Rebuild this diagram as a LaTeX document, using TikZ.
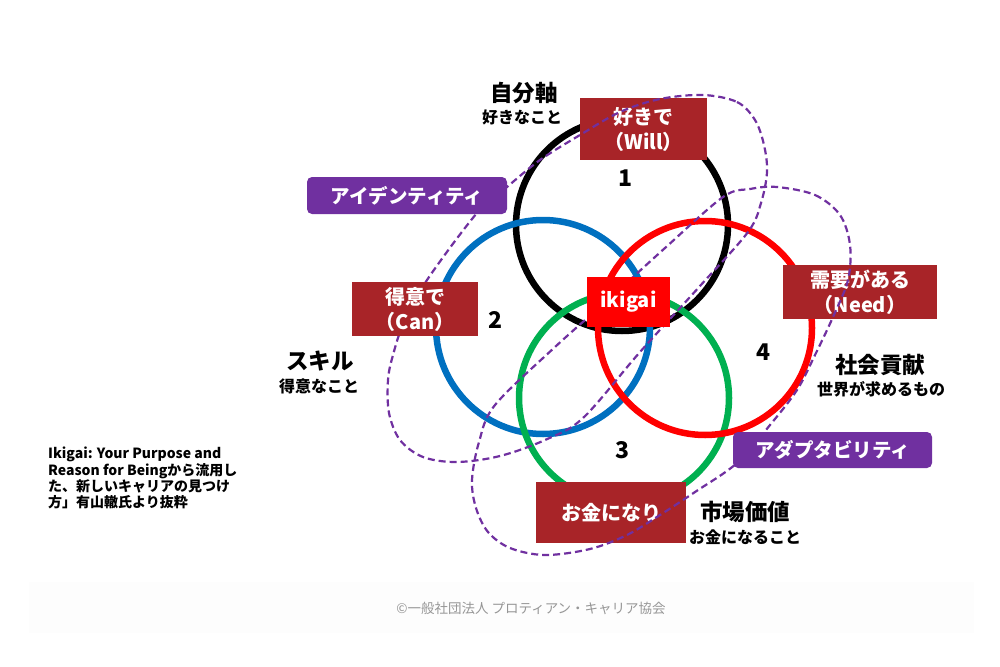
\documentclass[tikz,border=0pt]{standalone}
\usepackage{fontspec}
\setmainfont{Noto Sans CJK JP}
\definecolor{boxred}{RGB}{168,36,40}
\definecolor{ipurple}{RGB}{112,48,160}
\definecolor{cblue}{RGB}{0,112,192}
\definecolor{cgreen}{RGB}{0,176,80}
\definecolor{footgray}{RGB}{150,150,150}
\definecolor{bandgray}{RGB}{253,253,253}
\begin{document}
\begin{tikzpicture}[x=1pt,y=-1pt,
  ringline/.style={line width=6.5pt},
  lbox/.style={fill=boxred, text=white, inner sep=0pt, align=center,
    font=\fontsize{20}{25}\selectfont\bfseries},
  pbox/.style={fill=ipurple, text=white, inner sep=0pt, rounded corners=5pt,
    font=\fontsize{19.5}{22}\selectfont\bfseries},
  dashloop/.style={draw=ipurple, line width=2.2pt, dash pattern=on 7pt off 4pt},
  numlabel/.style={inner sep=0pt, font=\fontsize{23}{26}\selectfont\bfseries},
  headlabel/.style={inner sep=0pt, font=\fontsize{22.5}{26}\selectfont\bfseries},
  sublabel/.style={inner sep=0pt, font=\fontsize{16}{18}\selectfont\bfseries},
]
\useasboundingbox (0,0) rectangle (1000,666);
\fill[white] (0,0) rectangle (1000,666);
\fill[bandgray] (29,582) rectangle (974,633);

% circles
\draw[ringline, black] (622,225) circle[radius=106];
\draw[ringline, cblue] (543,327) circle[radius=107];
\draw[ringline, cgreen] (624,398) circle[radius=105];
\draw[ringline, red] (705,328) circle[radius=107];

% label boxes under the dashed loops
\node[lbox, minimum width=127pt, minimum height=62pt] (will) at (643.5,129) {好きで\\（Will）};
\node[lbox, minimum width=154pt, minimum height=54pt] (need) at (860,292) {需要がある\\（Need）};
\node[lbox, minimum width=150pt, minimum height=61pt] (money) at (611,512.5) {お金になり};

% dashed loops
\draw[dashloop] plot[smooth cycle, tension=0.55] coordinates {
  (703,95) (737,102) (755,120) (764,145) (767,172) (761,203) (748,232)
  (700,286) (640,352) (583,418) (545,440) (500,456) (457,462) (423,457)
  (400,440) (389,413) (388,380) (393,355) (404,322) (427,280) (477,213)
  (507,187) (540,160) (580,135) (620,112) (660,99)};
\draw[dashloop] plot[smooth cycle, tension=0.55] coordinates {
  (777,187) (815,195) (840,215) (850,245) (848,280) (833,317) (815,355)
  (797,390) (770,425) (737,463) (695,492) (660,515) (627,535) (590,549)
  (545,555) (510,548) (488,532) (476,508) (472,480) (479,442) (495,405)
  (555,347) (610,298) (665,248) (723,197) (750,189)};

% boxes above the loops
\node[lbox, minimum width=126pt, minimum height=54pt] (can) at (415,309) {得意で\\（Can）};
\node[lbox, fill=red, minimum width=83pt, minimum height=50pt] (ikigai) at (628.5,302) {ikigai};
\node[pbox, minimum width=200pt, minimum height=37pt] (identity) at (407,195.5) {アイデンティティ};
\node[pbox, minimum width=199pt, minimum height=36pt] (adapt) at (832.5,450) {アダプタビリティ};

% numbers
\node[numlabel] (n1) at (625,178) {1};
\node[numlabel] (n2) at (495,320) {2};
\node[numlabel] (n3) at (622,450) {3};
\node[numlabel] (n4) at (763,352) {4};

% headings
\node[headlabel] (h1) at (524,93) {自分軸};
\node[sublabel] (s1) at (522,117) {好きなこと};
\node[headlabel] (h2) at (320,361) {スキル};
\node[sublabel] (s2) at (319,386) {得意なこと};
\node[headlabel] (h4) at (880,365) {社会貢献};
\node[sublabel] (s4) at (881,389) {世界が求めるもの};
\node[headlabel] (h3) at (745,512) {市場価値};
\node[sublabel] (s3) at (745,537) {お金になること};

% note
\node[anchor=north west, inner sep=0pt, align=left,
  font=\fontsize{14}{16.3}\selectfont\bfseries] (note) at (48,447)
  {Ikigai: Your Purpose and\\Reason for Beingから流用し\\た、新しいキャリアの見つけ\\方」有山轍氏より抜粋};

% footer
\node[inner sep=0pt, text=footgray, font=\fontsize{13.5}{16}\selectfont] (foot) at (531,608)
  {©一般社団法人 プロティアン・キャリア協会};
\end{tikzpicture}
\end{document}
